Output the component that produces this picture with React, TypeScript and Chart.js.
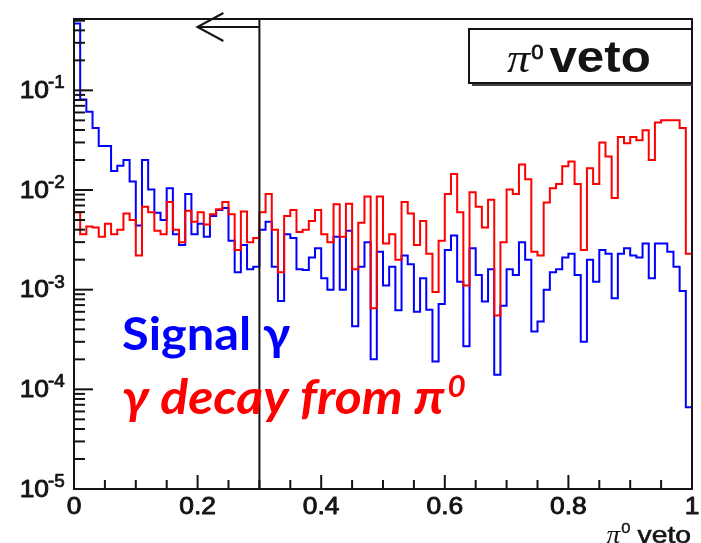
import React, { useEffect, useRef } from "react";
import { Chart, registerables } from "chart.js";

Chart.register(...registerables);

// ---- data ----
const binCount = 100;
const xMin = 0;
const xMax = 1;
const yMin = 1e-5;
const yMax = 0.52;
const cutValue = 0.3;

const signalGamma = [
  0.47, 0.081, 0.061, 0.042, 0.0277, 0.0277, 0.0155, 0.0175, 0.02, 0.0122,
  0.0044, 0.02, 0.0101, 0.0059, 0.005, 0.0104, 0.0036, 0.0028, 0.0091, 0.0036,
  0.0046, 0.0034, 0.0055, 0.0063, 0.0066, 0.0031, 0.0015, 0.0028, 0.0016, 0.0017,
  0.004, 0.0048, 0.0017, 0.00077, 0.0036, 0.0033, 0.0016, 0.00158, 0.0021, 0.0026,
  0.0013, 0.001, 0.0034, 0.001, 0.0039, 0.00043, 0.0017, 0.003, 0.0002, 0.0024,
  0.0011, 0.0017, 0.00062, 0.0022, 0.0018, 0.0006, 0.0013, 0.00063, 0.00019, 0.00072,
  0.0025, 0.0035, 0.0012, 0.00027, 0.0026, 0.0014, 0.00076, 0.0016, 0.00014, 0.00069,
  0.0016, 0.0014, 0.003, 0.002, 0.00038, 0.00048, 0.001, 0.0015, 0.0016, 0.0021,
  0.0023, 0.0014, 0.0003, 0.002, 0.0012, 0.0025, 0.0023, 0.00082, 0.0023, 0.0026,
  0.0022, 0.0021, 0.0029, 0.0013, 0.0029, 0.0029, 0.0024, 0.0017, 0.00097, 0.000066,
];

const pi0Decay = [
  0.006, 0.0036, 0.0043, 0.0042, 0.0034, 0.0046, 0.0036, 0.004, 0.0058, 0.005,
  0.0022, 0.0068, 0.006, 0.0039, 0.0036, 0.0076, 0.004, 0.003, 0.0062, 0.0048,
  0.006, 0.0045, 0.0057, 0.0064, 0.0076, 0.0057, 0.0025, 0.0061, 0.003, 0.0033,
  0.006, 0.0091, 0.004, 0.0015, 0.0055, 0.0063, 0.0038, 0.004, 0.0049, 0.0063,
  0.0036, 0.003, 0.0072, 0.0034, 0.0073, 0.0016, 0.0047, 0.0086, 0.00065, 0.0086,
  0.0029, 0.0036, 0.002, 0.0076, 0.0058, 0.0028, 0.0049, 0.0023, 0.00095, 0.0031,
  0.0091, 0.0145, 0.006, 0.0011, 0.0095, 0.0068, 0.0042, 0.008, 0.00055, 0.003,
  0.0101, 0.0091, 0.018, 0.0128, 0.0024, 0.0022, 0.0075, 0.0104, 0.0115, 0.0173,
  0.0193, 0.0115, 0.0025, 0.0165, 0.0115, 0.03, 0.0217, 0.0083, 0.034, 0.0294,
  0.034, 0.0316, 0.0398, 0.02, 0.0475, 0.05, 0.05, 0.05, 0.042, 0.0023,
];

const xTickValues = [0, 0.2, 0.4, 0.6, 0.8, 1];
const xTickLabels = ["0", "0.2", "0.4", "0.6", "0.8", "1"];
const xMinorStep = 0.05;
const yDecadeExponents = [-5, -4, -3, -2, -1];
const yTickLabels = ["-5", "-4", "-3", "-2", "-1"];

// histogram edges -> step points
function toSteps(values: number[]) {
  const w = (xMax - xMin) / binCount;
  const pts = values.map((v, i) => ({ x: xMin + i * w, y: v }));
  pts.push({ x: xMax, y: values[values.length - 1] });
  return pts;
}

function drawText(
  ctx: CanvasRenderingContext2D,
  text: string,
  x: number,
  y: number,
  font: string,
  color: string,
  align: "left" | "center" | "right" = "left",
  baseline: CanvasTextBaseline = "alphabetic",
  sx = 1,
  embolden = 0
) {
  ctx.save();
  ctx.font = font;
  ctx.fillStyle = color;
  ctx.textBaseline = baseline;
  ctx.textAlign = "left";
  const w = ctx.measureText(text).width * sx;
  let x0 = x;
  if (align === "center") x0 = x - w / 2;
  else if (align === "right") x0 = x - w;
  ctx.translate(x0, y);
  ctx.scale(sx, 1);
  ctx.fillText(text, 0, 0);
  if (embolden > 0) {
    ctx.strokeStyle = color;
    ctx.lineWidth = embolden;
    ctx.lineJoin = "round";
    ctx.strokeText(text, 0, 0);
  }
  ctx.restore();
  return w;
}

const rootStyle = {
  id: "rootStyle",
  afterDatasetsDraw(chart: any) {
    const { ctx, chartArea, scales } = chart;
    const { left, right, top, bottom } = chartArea;
    const xs = scales.x;
    const ys = scales.y;
    const ink = "#141414";
    const sansFont = '"Liberation Sans", Arial, sans-serif';
    ctx.save();
    ctx.strokeStyle = ink;
    ctx.lineWidth = 2;
    ctx.lineCap = "butt";

    // x ticks
    const nMinor = Math.round((xMax - xMin) / xMinorStep);
    for (let i = 0; i <= nMinor; i++) {
      const v = xMin + i * xMinorStep;
      const px = xs.getPixelForValue(v);
      const major = i % 4 === 0;
      ctx.beginPath();
      ctx.moveTo(px, bottom);
      ctx.lineTo(px, bottom - (major ? 14 : 9));
      ctx.stroke();
    }
    // y ticks
    yDecadeExponents.forEach((e) => {
      for (let m = 1; m <= 9; m++) {
        const v = m * Math.pow(10, e);
        if (v < yMin || v > yMax) continue;
        const py = ys.getPixelForValue(v);
        ctx.beginPath();
        ctx.moveTo(left, py);
        ctx.lineTo(left + (m === 1 ? 19 : 11), py);
        ctx.stroke();
      }
    });
    // frame
    ctx.strokeRect(left, top, right - left, bottom - top);

    // x labels
    xTickValues.forEach((v, i) => {
      const px = xs.getPixelForValue(v);
      drawText(ctx, xTickLabels[i], px, bottom + 18, `24px ${sansFont}`, ink, "center", "middle", 1.1, 0.9);
    });
    // y labels
    yDecadeExponents.forEach((e, i) => {
      const py = ys.getPixelForValue(Math.pow(10, e));
      drawText(ctx, "10", left - 25, py + 1, `24px ${sansFont}`, ink, "right", "middle", 1.1, 0.9);
      drawText(ctx, yTickLabels[i], left - 26, py - 2, `18px ${sansFont}`, ink, "left", "alphabetic", 1.05, 0.7);
    });

    // cut line and arrow
    const cx = xs.getPixelForValue(cutValue);
    ctx.beginPath();
    ctx.moveTo(cx, top);
    ctx.lineTo(cx, bottom);
    ctx.stroke();
    const ay = top + 8;
    ctx.beginPath();
    ctx.moveTo(cx, ay);
    ctx.lineTo(cx - 62, ay);
    ctx.moveTo(cx - 36, ay - 14);
    ctx.lineTo(cx - 62, ay);
    ctx.lineTo(cx - 36, ay + 14);
    ctx.stroke();

    // title pave
    const pL = right - 223;
    const pT = top + 10;
    const pB = top + 64;
    ctx.fillStyle = "#fff";
    ctx.fillRect(pL, pT, right - pL, pB - pT);
    ctx.fillStyle = "#444";
    ctx.fillRect(pL + 3, pB, right - pL - 3, 3);
    ctx.strokeRect(pL, pT, right - pL, pB - pT);
    let tx = pL + 38;
    tx += drawText(ctx, "π", tx, pT + 43, 'italic 42px "Liberation Serif", serif', ink, "left", "alphabetic", 1.1);
    tx += 1;
    tx += drawText(ctx, "0", tx, pT + 30, `21px ${sansFont}`, ink, "left", "alphabetic", 1.05, 0.8);
    tx += 6;
    drawText(ctx, "veto", tx, pT + 43, `bold 44px ${sansFont}`, ink, "left", "alphabetic", 1.12);

    // axis title
    const titleRight = right - 1;
    const vw = drawText(ctx, "veto", titleRight, bottom + 54, `24px ${sansFont}`, ink, "right", "alphabetic", 1.18, 0.6);
    const zx = titleRight - vw - 7;
    const zw = drawText(ctx, "0", zx, bottom + 44, `15px ${sansFont}`, ink, "right", "alphabetic", 1.1, 0.4);
    drawText(ctx, "π", zx - zw - 1, bottom + 54, 'italic 25px "Liberation Serif", serif', ink, "right", "alphabetic", 1.1);

    // overlay annotation text
    const overlay = 'Lato, "Noto Sans", sans-serif';
    drawText(ctx, "Signal γ", 122, 350, `bold 46px ${overlay}`, "#0000ff", "left", "alphabetic", 1.06);
    let rx = 122;
    rx += drawText(ctx, "γ decay from π", rx, 414, `italic bold 47px ${overlay}`, "#ff0000", "left", "alphabetic", 1.1);
    drawText(ctx, "0", rx + 3, 397, `italic bold 30px ${overlay}`, "#ff0000", "left", "alphabetic", 1.05);
    ctx.restore();
  },
};

export default function App() {
  const ref = useRef<HTMLCanvasElement>(null);
  useEffect(() => {
    const canvas = ref.current;
    if (!canvas) return;
    const chart = new Chart(canvas, {
      type: "line",
      data: {
        datasets: [
          {
            label: "γ decay from π0",
            data: toSteps(pi0Decay),
            borderColor: "#ff0000",
            borderWidth: 2,
            stepped: true,
            pointRadius: 0,
            fill: false,
            order: 0,
          },
          {
            label: "Signal γ",
            data: toSteps(signalGamma),
            borderColor: "#0000ff",
            borderWidth: 2,
            stepped: true,
            pointRadius: 0,
            fill: false,
            order: 1,
          },
        ],
      },
      options: {
        animation: false,
        responsive: false,
        devicePixelRatio: 1,
        parsing: false as any,
        normalized: true,
        layout: { padding: { left: 74, right: 9, top: 19, bottom: 54 } },
        scales: {
          x: { type: "linear", min: xMin, max: xMax, display: false },
          y: { type: "logarithmic", min: yMin, max: yMax, display: false },
        },
        plugins: {
          legend: { display: false },
          tooltip: { enabled: false },
        },
      },
      plugins: [rootStyle],
    });
    return () => chart.destroy();
  }, []);
  return (
    <div style={{ position: "fixed", left: 0, top: 0, width: 701, height: 543, background: "#fff" }}>
      <canvas ref={ref} width={701} height={543} style={{ display: "block", width: 701, height: 543 }} />
    </div>
  );
}
